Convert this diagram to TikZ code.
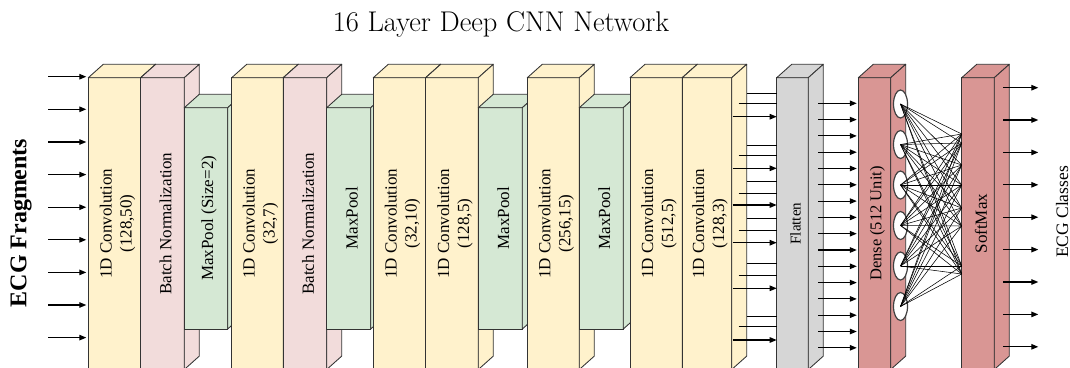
\documentclass[tikz,border=0pt]{standalone}
\usepackage{fontspec}
\newfontfamily\tnr{Liberation Serif}
\usetikzlibrary{arrows.meta,shapes.geometric}
\definecolor{convc}{HTML}{FFF2CC}
\definecolor{bnc}{HTML}{F2DCDB}
\definecolor{mpc}{HTML}{D5E8D4}
\definecolor{flc}{HTML}{D6D6D6}
\definecolor{dnc}{HTML}{D99694}
\def\bdx{15}
\def\bdy{13.4}
\newcommand{\layerbox}[8]{%
  \node[face, fill=#6, minimum width={(#3-#2)*1pt}, minimum height={(#5-#4)*1pt}] (#1) at (#2,#4) {};
  \filldraw[facepath, fill=#6] (#1.north west) -- ++(\bdx,-\bdy) -- ++({#3-#2},0) -- (#1.north east) -- cycle;
  \filldraw[facepath, fill=#6] (#1.north east) -- ++(\bdx,-\bdy) -- ++(0,{#5-#4}) -- (#1.south east) -- cycle;
  \node[lbl,#8] (#1t) at (#1.center) {#7};
}
\begin{document}
\begin{tikzpicture}[x=1pt,y=-1pt,
  face/.style={draw=black!80, line width=0.85pt, inner sep=0pt, outer sep=0pt, anchor=north west},
  facepath/.style={draw=black!80, line width=0.85pt, line join=round},
  lbl/.style={rotate=90, align=center, inner sep=0pt, yshift=-3pt, font=\tnr\fontsize{17}{20}\selectfont},
  arr/.style={line width=1.15pt, -{Triangle[length=7pt,width=5.5pt]}},
  ln/.style={line width=0.9pt},
  wire/.style={line width=0.55pt},
  neuron/.style={ellipse, draw=black!75, line width=1.2pt, fill=white, minimum width=14pt, minimum height=28pt, inner sep=0pt}
]
\useasboundingbox (0,0) rectangle (1070,367);
\clip (0,0) rectangle (1070,367);

\node[font=\fontsize{28.5}{32}\selectfont] (title) at (501,24) {16 Layer Deep CNN Network};
\node[rotate=90, font=\tnr\bfseries\fontsize{24}{28}\selectfont] (inp) at (21,223) {ECG Fragments};

\layerbox{c1}{88.3}{140.7}{77.7}{369.5}{convc}{1D Convolution\\(128,50)}{}
\layerbox{b1}{140.7}{184.3}{77.7}{369.5}{bnc}{Batch Normalization}{}
\layerbox{m1}{184.3}{227.7}{107.7}{329}{mpc}{MaxPool (Size=2)}{}
\layerbox{c2}{231.7}{283.3}{77.7}{369.5}{convc}{1D Convolution\\(32,7)}{}
\layerbox{b2}{283.3}{326.7}{77.7}{369.5}{bnc}{Batch Normalization}{}
\layerbox{m2}{326.7}{370.7}{107.7}{329}{mpc}{MaxPool}{}
\layerbox{c3}{373.3}{425.7}{77.7}{369.5}{convc}{1D Convolution\\(32,10)}{}
\layerbox{c4}{425.7}{478.3}{77.7}{369.5}{convc}{1D Convolution\\(128,5)}{}
\layerbox{m3}{478.3}{522.3}{107.7}{329}{mpc}{MaxPool}{}
\layerbox{c5}{527.3}{579.3}{77.7}{369.5}{convc}{1D Convolution\\(256,15)}{}
\layerbox{m4}{579.3}{623.3}{107.7}{329}{mpc}{MaxPool}{}
\layerbox{c6}{630}{682.3}{77.7}{369.5}{convc}{1D Convolution\\(512,5)}{}
\layerbox{c7}{682.3}{731.7}{77.7}{369.5}{convc}{1D Convolution\\(128,3)}{}
\layerbox{fl}{776.7}{808.3}{77.7}{369.5}{flc}{Flatten}{font=\tnr\fontsize{15}{18}\selectfont}
\layerbox{de}{858.3}{890.7}{77.7}{369.5}{dnc}{Dense (512 Unit)}{font=\tnr\fontsize{16.5}{20}\selectfont}
\layerbox{sm}{961.7}{994.3}{77.7}{369.5}{dnc}{SoftMax}{}

% input arrows
\foreach \y in {76.7,109.3,142,174.6,207.2,239.8,272.4,305,337.6}
  \draw[arr, shorten >=2pt] (48,\y) -- (c1.west |- 0,\y);

% conv7 -> flatten
\foreach \a/\b/\c in {93.3/103.3/116.7, 145/155/168.3, 181/193.3/205, 218/230/242.7, 263.3/275/288.3, 316.7/326.7/340}{
  \draw[ln] (746.5,\a) -- (fl.west |- 0,\a);
  \draw[ln] (738.5,\b) -- (fl.west |- 0,\b);
  \draw[arr] (732.7,\c) -- (fl.west |- 0,\c);
}

% flatten -> dense
\foreach \y in {103.3,119.6,135.9,152.2,168.5,184.8,201.1,217.4,233.7,250,266.3,282.6,298.9,315.2,331.5,347.8}
  \draw[arr, shorten >=1.5pt] (818.3,\y) -- (de.west |- 0,\y);

% neurons
\foreach \i/\y in {1/104,2/144.5,3/185,4/225.5,5/266,6/306.5}
  \node[neuron] (n\i) at (900.5,\y) {};
\foreach \i in {1,...,6}
  \foreach \t in {134,143,165,185,208,226,266,274}
    \draw[wire] (n\i.center) -- (sm.west |- 0,\t);

% output arrows
\foreach \y in {87.7,120,152.4,184.8,217.2,249.6,282,314.4,346.8}
  \draw[arr] (1003.3,\y) -- (1038.3,\y);

\node[rotate=90, font=\tnr\fontsize{17.5}{20}\selectfont] (cls) at (1062,212) {ECG Classes};
\end{tikzpicture}
\end{document}
